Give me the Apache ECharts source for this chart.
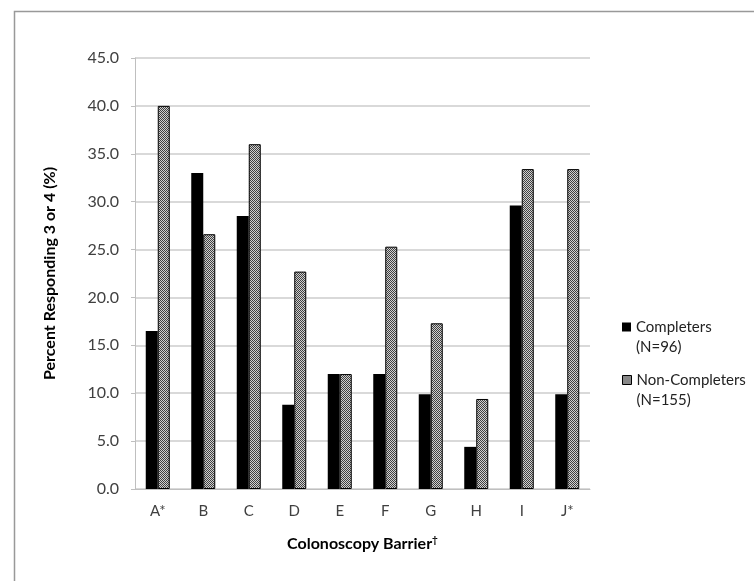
<!DOCTYPE html>
<html>
<head>
<meta charset="utf-8">
<script src="https://cdn.jsdelivr.net/npm/echarts@6/dist/echarts.min.js"></script>
<style>
html,body{margin:0;padding:0;background:#fff;}
#chart{width:754px;height:581px;}
</style>
</head>
<body>
<div id="chart"></div>
<script>
var categories = ['A*','B','C','D','E','F','G','H','I','J*'];
var completers = [16.5, 33.0, 28.5, 8.8, 12.0, 12.0, 9.9, 4.4, 29.6, 9.9];
var nonCompleters = [40.0, 26.6, 36.0, 22.7, 12.0, 25.3, 17.3, 9.4, 33.4, 33.4];
var seriesNames = ['Completers', 'Non-Completers'];
var seriesNotes = ['(N=96)', '(N=155)'];

function makePattern(){
  var c = document.createElement('canvas');
  c.width = 2; c.height = 2;
  var ctx = c.getContext('2d');
  ctx.fillStyle = '#d0d0d0'; ctx.fillRect(0,0,2,2);
  ctx.fillStyle = '#404040';
  ctx.fillRect(0,0,1,1); ctx.fillRect(1,1,1,1);
  return c;
}
var pat = {image: makePattern(), repeat: 'repeat'};

var chart = echarts.init(document.getElementById('chart'));
var font = 'Lato, "Open Sans", sans-serif';
var legendText = {fontFamily: font, fontSize: 15, color: '#222', lineHeight: 20};
function legendFor(i, top, style){
  return {
    orient: 'vertical', left: 617, top: top,
    itemWidth: 9, itemHeight: 9, icon: 'rect',
    textStyle: legendText,
    formatter: function(n){ return '\n' + n + '\n' + seriesNotes[i]; },
    data: [{name: seriesNames[i], itemStyle: style}]
  };
}
chart.setOption({
  animation: false,
  textStyle: {fontFamily: font},
  graphic: [{
    type: 'rect', left: 12, top: 9, silent: true,
    shape: {width: 800, height: 700},
    style: {fill: 'none', stroke: '#999', lineWidth: 1.5}
  }],
  grid: {left: 135, right: 164, top: 58, bottom: 92},
  legend: [
    legendFor(0, 292, {color: '#000'}),
    legendFor(1, 345, {color: pat, borderColor: '#000', borderWidth: 1})
  ],
  xAxis: {
    type: 'category', data: categories,
    name: 'Colonoscopy Barrier{s|\u2020}', nameLocation: 'middle', nameGap: 46,
    nameTextStyle: {fontFamily: font, fontSize: 16, fontWeight: 'bold', color: '#000',
      rich: {s: {fontFamily: font, fontSize: 10, fontWeight: 'bold', color: '#000', padding: [0,0,8,0]}}},
    axisLine: {lineStyle: {color: '#bfbfbf', width: 1}},
    axisTick: {show: false},
    axisLabel: {fontFamily: font, fontSize: 15, color: '#404040', margin: 15}
  },
  yAxis: {
    type: 'value', min: 0, max: 45, interval: 5,
    name: 'Percent Responding 3 or 4 (%)', nameLocation: 'middle', nameGap: 77,
    nameTextStyle: {fontFamily: font, fontSize: 16, fontWeight: 'bold', color: '#000'},
    axisLine: {show: true, lineStyle: {color: '#bfbfbf', width: 1}},
    axisTick: {show: true, length: 4, lineStyle: {color: '#bfbfbf'}},
    axisLabel: {fontFamily: font, fontSize: 16, color: '#404040', margin: 16,
      formatter: function(v){ return v.toFixed(1); }},
    splitLine: {lineStyle: {color: '#cccccc', width: 1.5}}
  },
  series: [
    {name: seriesNames[0], type: 'bar', data: completers, barWidth: 12, barGap: '0%',
      itemStyle: {color: '#000'}},
    {name: seriesNames[1], type: 'bar', data: nonCompleters, barWidth: 12,
      itemStyle: {color: pat, borderColor: '#000', borderWidth: 1}}
  ]
});
</script>
</body>
</html>
